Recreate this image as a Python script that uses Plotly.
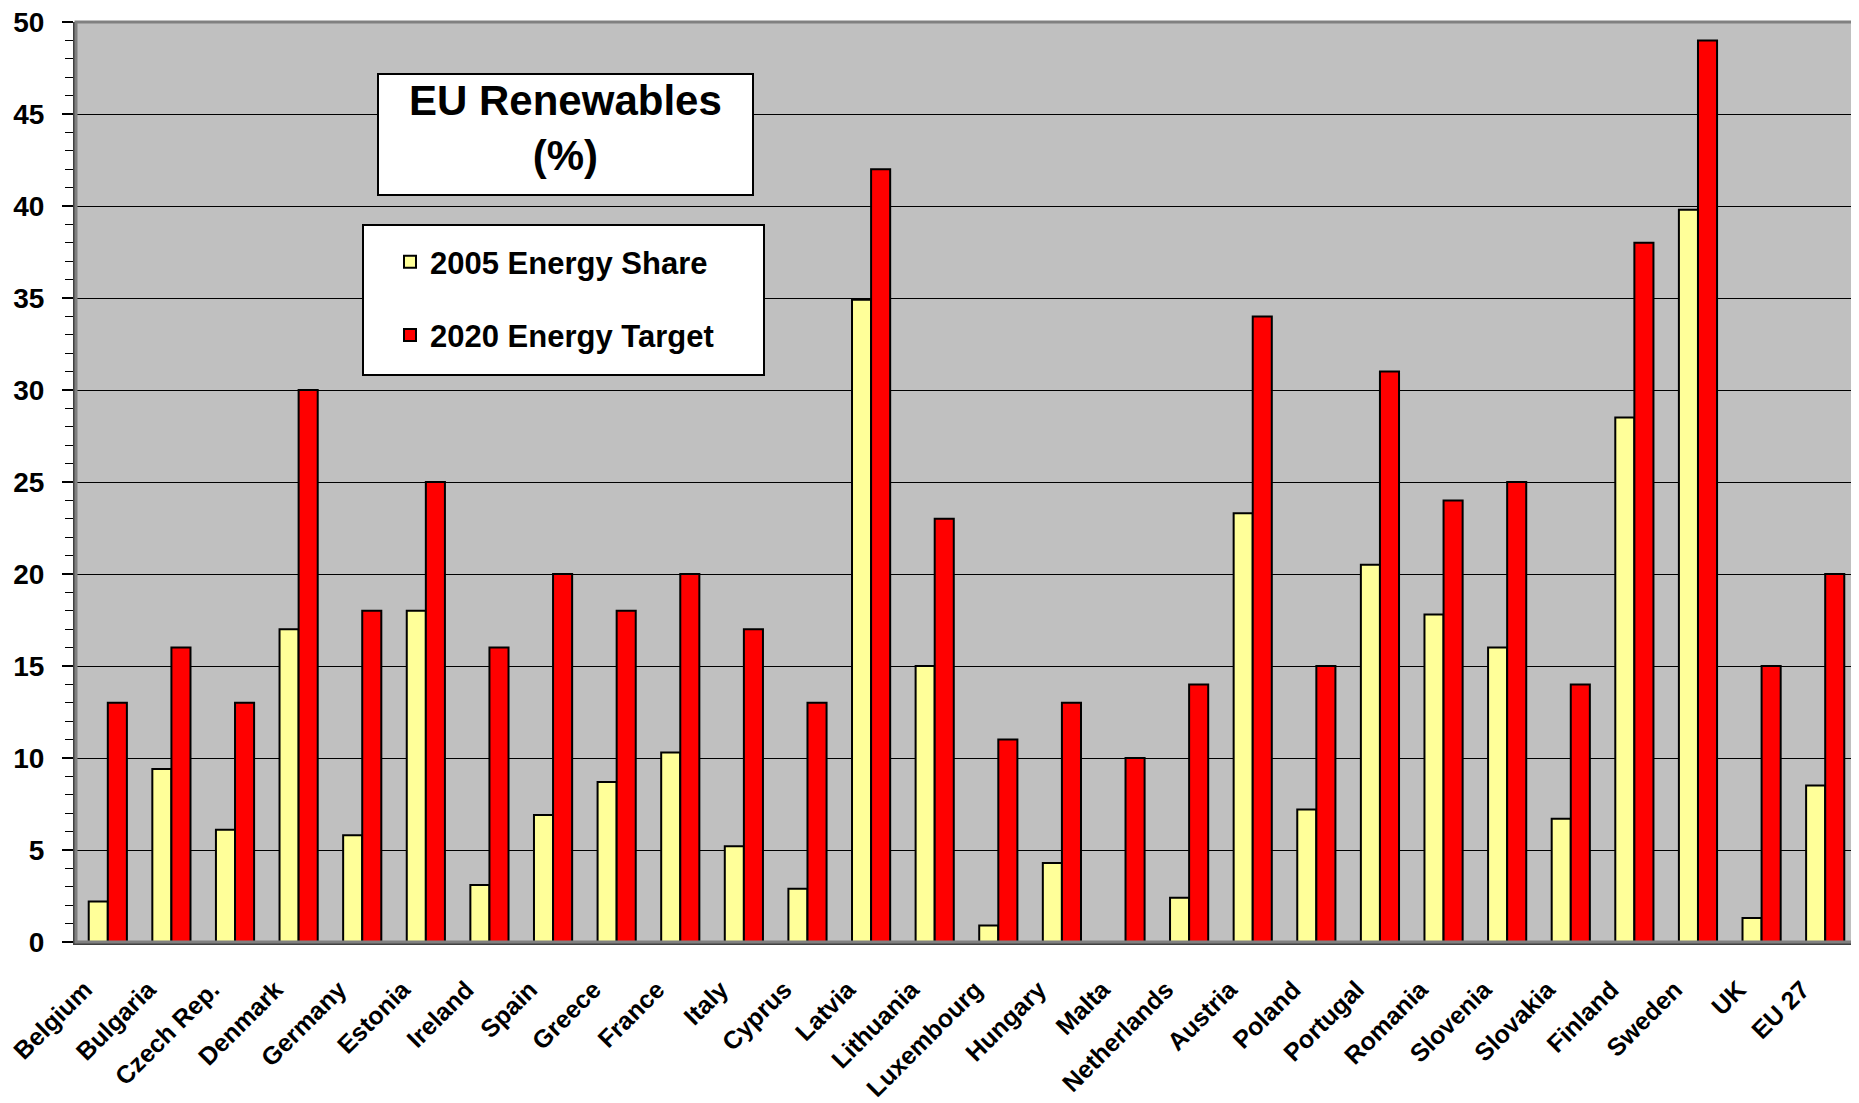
import plotly.graph_objects as go

countries = ['Belgium', 'Bulgaria', 'Czech Rep.', 'Denmark', 'Germany', 'Estonia', 'Ireland',
             'Spain', 'Greece', 'France', 'Italy', 'Cyprus', 'Latvia', 'Lithuania', 'Luxembourg',
             'Hungary', 'Malta', 'Netherlands', 'Austria', 'Poland', 'Portugal', 'Romania',
             'Slovenia', 'Slovakia', 'Finland', 'Sweden', 'UK', 'EU 27']
share_2005 = [2.2, 9.4, 6.1, 17.0, 5.8, 18.0, 3.1, 6.9, 8.7, 10.3, 5.2, 2.9, 34.9, 15.0, 0.9,
              4.3, 0.0, 2.4, 23.3, 7.2, 20.5, 17.8, 16.0, 6.7, 28.5, 39.8, 1.3, 8.5]
target_2020 = [13, 16, 13, 30, 18, 25, 16, 20, 18, 20, 17, 13, 42, 23, 11,
               13, 10, 14, 34, 15, 31, 24, 25, 14, 38, 49, 15, 20]

FONT = "Arial, Liberation Sans, sans-serif"

# page has an 8px body margin, so plot area in figure px: x 68..1849, y 14..934
L, T, W, H = 68, 14, 1781, 920


def px(x):
    return (x - 8 - L) / W


def py(y):
    return (T + H - (y - 8)) / H


fig = go.Figure()
fig.add_trace(go.Bar(x=countries, y=share_2005, name='<b>2005 Energy Share</b>', legendgroup='a',
                     marker=dict(color='#FFFF99', line=dict(color='black', width=2))))
fig.add_trace(go.Bar(x=countries, y=target_2020, name='<b>2020 Energy Target</b>', legendgroup='b',
                     marker=dict(color='#FF0000', line=dict(color='black', width=2))))

fig.update_layout(
    width=1859, height=1103,
    margin=dict(l=L, r=1859 - L - W, t=T, b=1103 - T - H),
    paper_bgcolor='white', plot_bgcolor='#C0C0C0',
    barmode='group', bargap=0.4, bargroupgap=0,
    font=dict(family=FONT, color='black'),
    legend=dict(x=px(390), y=py(235), xanchor='left', yanchor='top',
                bgcolor='rgba(0,0,0,0)', borderwidth=0,
                font=dict(size=31, family=FONT), tracegroupgap=30,
                itemwidth=30),
    annotations=[dict(text='<b>EU Renewables<br>(%)</b>', xref='paper', yref='paper',
                      x=px(565), y=py(128), xanchor='center', yanchor='middle',
                      showarrow=False, font=dict(size=42, family=FONT), align='center')],
    shapes=[dict(type='rect', xref='paper', yref='paper', x0=0, y0=0, x1=1, y1=1,
                 line=dict(color='#808080', width=3), layer='above'),
            dict(type='rect', xref='paper', yref='paper', x0=px(378), y0=py(195),
                 x1=px(753), y1=py(74), fillcolor='white',
                 line=dict(color='black', width=2), layer='above'),
            dict(type='rect', xref='paper', yref='paper', x0=px(363), y0=py(375),
                 x1=px(764), y1=py(225), fillcolor='white',
                 line=dict(color='black', width=2), layer='above')],
)
fig.update_xaxes(tickangle=-45, tickfont=dict(size=25, family=FONT), automargin=False,
                 showline=True, linecolor='#404040', linewidth=3, ticks='',
                 tickprefix='<b>', ticksuffix='</b>', ticklabelshift=-23, ticklabelstandoff=20,
                 ticklabeloverflow='allow')
fig.update_yaxes(range=[0, 50], dtick=5, showgrid=True, gridcolor='black', gridwidth=1,
                 tickfont=dict(size=28, family=FONT), ticks='outside', ticklen=11,
                 tickcolor='black', tickwidth=2, showline=True, linecolor='#404040', linewidth=3,
                 tickprefix='<b>', ticksuffix='</b>', zeroline=False, automargin=False,
                 ticklabelstandoff=12, ticklabeloverflow='allow',
                 minor=dict(dtick=1, ticks='outside', ticklen=8, tickcolor='black', tickwidth=1,
                            showgrid=False))

fig.write_html("out.html")
